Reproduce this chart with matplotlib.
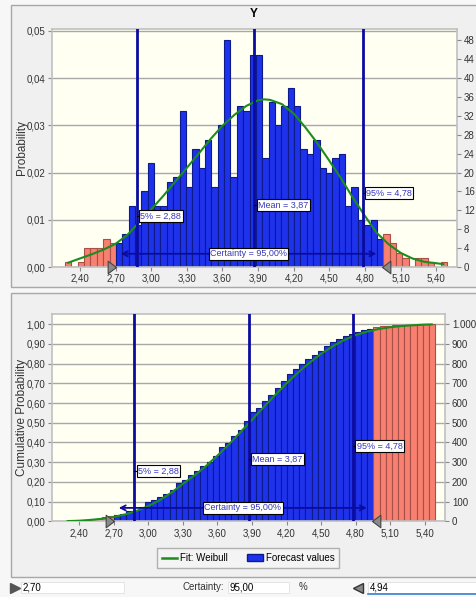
import numpy as np
import matplotlib.pyplot as plt
from matplotlib.patches import Rectangle, Patch
from matplotlib.lines import Line2D
from matplotlib.ticker import FuncFormatter

plt.rcParams['font.family'] = ['Liberation Sans', 'DejaVu Sans']

# forecast: 1000 trials binned into 60 equal bins
trials = 1000
bin_lo = 2.274
bin_w = 0.0536
counts = [1, 0, 1, 4, 4, 4, 6, 5,
          5, 7, 13, 9, 16, 22, 13, 13, 18, 19,
          33, 17, 25, 21, 27, 17, 30, 48, 19, 34, 33, 45, 45, 23, 35, 30,
          34, 38, 34, 25, 24, 27, 21, 20, 23, 24, 13, 17, 10, 9, 10, 6,
          7, 5, 3, 2, 0, 2, 2, 1, 0, 1]

# Weibull fit
fit_x = [2.30, 2.40, 2.50, 2.60, 2.70, 2.80, 2.90, 3.00, 3.10, 3.20, 3.30,
         3.40, 3.50, 3.60, 3.70, 3.80, 3.90, 3.95, 4.00, 4.10, 4.20, 4.30,
         4.40, 4.50, 4.60, 4.70, 4.80, 4.90, 5.00, 5.10, 5.20, 5.30, 5.40, 5.46]
fit_pdf = [0.0009, 0.0018, 0.0027, 0.0037, 0.0049, 0.0068, 0.0095, 0.0122,
           0.0150, 0.0180, 0.0210, 0.0240, 0.0271, 0.0299, 0.0322, 0.0341,
           0.0353, 0.0355, 0.0354, 0.0345, 0.0325, 0.0295, 0.0262, 0.0225,
           0.0187, 0.0146, 0.0108, 0.0072, 0.0048, 0.0030, 0.0018, 0.0011,
           0.0008, 0.0006]
fit_cdf = [0.001, 0.003, 0.007, 0.013, 0.022, 0.035, 0.053, 0.077, 0.107,
           0.145, 0.190, 0.232, 0.280, 0.333, 0.390, 0.452, 0.515, 0.547,
           0.578, 0.640, 0.700, 0.755, 0.805, 0.850, 0.888, 0.920, 0.945,
           0.963, 0.976, 0.985, 0.991, 0.995, 0.998, 0.999]

pct5 = 2.88
mean_val = 3.87
pct95 = 4.78
cert_lo = 2.70
cert_hi = 4.94
certainty = 95.00

W, H = 476, 597
def box(l, t, r, b):
    return [l / W, 1 - b / H, (r - l) / W, (b - t) / H]

def fx(px):
    return px / W

def fy(py):
    return 1 - py / H

comma2 = FuncFormatter(lambda v, p: f'{v:.2f}'.replace('.', ','))
thousand = FuncFormatter(lambda v, p: f'{v:,.0f}'.replace(',', '.'))

BLUE = '#1e32ec'
BLUE_EDGE = '#0d1a8a'
SALMON = '#f88070'
SALMON_EDGE = '#a85048'
LINE = '#0b0b9e'
GREEN = '#1c8c1c'
TXT = '#333333'

fig = plt.figure(figsize=(W / 100, H / 100), dpi=100, facecolor='#f7f7f7')

# panel frames
fig.patches.append(Rectangle((fx(11), fy(287)), 1, (287 - 5) / H, transform=fig.transFigure,
                             fc='#f0f0f0', ec='#a8a8a8', lw=1, zorder=-10))
fig.patches.append(Rectangle((fx(11), fy(577)), 1, (577 - 293) / H, transform=fig.transFigure,
                             fc='#f0f0f0', ec='#a8a8a8', lw=1, zorder=-10))
fig.text(fx(254), fy(14), 'Y', ha='center', va='center', fontsize=8.5, fontweight='bold')

edges = bin_lo + bin_w * np.arange(len(counts))
centers = edges + bin_w / 2
inside = (centers >= cert_lo) & (centers <= cert_hi)
face = [BLUE if k else SALMON for k in inside]
edgec = [BLUE_EDGE if k else SALMON_EDGE for k in inside]
prob = np.array(counts) / trials
cum = np.cumsum(counts) / trials


def style(ax):
    ax.set_facecolor('#fffff2')
    for s in ax.spines.values():
        s.set_color('#c0c0c0')
        s.set_linewidth(1.2)
    ax.tick_params(colors='#888888', labelcolor=TXT, labelsize=7, length=3, width=0.8, pad=2)
    ax.set_axisbelow(True)
    ax.grid(axis='y', color='#a8a8a8', lw=1)
    ax.set_xlim(2.165, 5.575)
    ax.set_xticks(np.arange(2.4, 5.41, 0.3))
    ax.xaxis.set_major_formatter(comma2)


def marks(ax, y_lab, y_cert, dx):
    for v, lab, y in [(pct5, f'5% = {pct5:.2f}'.replace('.', ','), y_lab[0]),
                      (mean_val, f'Mean = {mean_val:.2f}'.replace('.', ','), y_lab[1]),
                      (pct95, f'95% = {pct95:.2f}'.replace('.', ','), y_lab[2])]:
        ax.axvline(v, color=LINE, lw=2, zorder=4)
        ax.plot([v, v + dx], [y, y], color='black', lw=0.8, zorder=5)
        ax.text(v + dx, y, lab, fontsize=6.5, color='#3838b8', va='center', ha='left', zorder=6,
                bbox=dict(boxstyle='square,pad=0.15', fc='white', ec='black', lw=0.8))
    ax.annotate('', xy=(cert_lo + 0.02, y_cert), xytext=(cert_hi - 0.02, y_cert),
                arrowprops=dict(arrowstyle='<->', color=LINE, lw=1.3, mutation_scale=9), zorder=5)
    ax.text((cert_lo + cert_hi) / 2 - 0.0, y_cert, f'Certainty = {certainty:.2f}%'.replace('.', ','),
            fontsize=6.5, color='#3838b8', va='center', ha='center', zorder=6,
            bbox=dict(boxstyle='square,pad=0.15', fc='white', ec='black', lw=0.8))
    right_tri = [(0, 0), (-1, 0.75), (-1, -0.75), (0, 0)]
    left_tri = [(0, 0), (1, 0.75), (1, -0.75), (0, 0)]
    ax.plot([cert_lo], [0], marker=right_tri, ms=12, color='#8a8a8a', mec='#444444', mew=0.8,
            clip_on=False, zorder=7, ls='none')
    ax.plot([cert_hi], [0], marker=left_tri, ms=12, color='#8a8a8a', mec='#444444', mew=0.8,
            clip_on=False, zorder=7, ls='none')


# top: probability histogram
ax1 = fig.add_axes(box(52, 29, 457, 267))
style(ax1)
ax1.bar(edges, prob, width=bin_w, align='edge', color=face, edgecolor=edgec, lw=0.8, zorder=2)
ax1.plot(fit_x, fit_pdf, color=GREEN, lw=1.5, zorder=3)
ax1.set_ylim(0, 0.0504)
ax1.set_yticks(np.arange(0, 0.051, 0.01))
ax1.yaxis.set_major_formatter(comma2)
ax1.set_ylabel('Probability', fontsize=8.5, color=TXT, labelpad=-1)
marks(ax1, [0.0108, 0.0131, 0.0157], 0.0028, 0.03)
ax1r = ax1.twinx()
ax1r.set_ylim(0, 50.4)
ax1r.set_yticks(range(0, 49, 4))
ax1r.tick_params(colors='#888888', labelcolor=TXT, labelsize=7, length=3, width=0.8, pad=2)
for s in ax1r.spines.values():
    s.set_visible(False)

# bottom: cumulative
ax2 = fig.add_axes(box(52, 314, 445, 521.3))
style(ax2)
ax2.bar(edges, cum, width=bin_w, align='edge', color=face, edgecolor=edgec, lw=0.8, zorder=2)
ax2.plot(fit_x, fit_cdf, color=GREEN, lw=1.5, zorder=3)
ax2.set_ylim(0, 1.052)
ax2.set_yticks(np.arange(0, 1.01, 0.1))
ax2.yaxis.set_major_formatter(comma2)
ax2.set_ylabel('Cumulative Probability', fontsize=8.5, color=TXT, labelpad=-1)
marks(ax2, [0.255, 0.316, 0.382], 0.068, 0.03)
ax2r = ax2.twinx()
ax2r.set_ylim(0, 1052)
ax2r.set_yticks(range(0, 1001, 100))
ax2r.yaxis.set_major_formatter(thousand)
ax2r.tick_params(colors='#888888', labelcolor=TXT, labelsize=7, length=3, width=0.8, pad=2)
for s in ax2r.spines.values():
    s.set_visible(False)

handles = [Line2D([], [], color=GREEN, lw=1.8), Patch(fc=BLUE, ec=BLUE_EDGE)]
fig.legend(handles, ['Fit: Weibull', 'Forecast values'], loc='center', ncol=2,
           bbox_to_anchor=(fx(248), fy(558)), fontsize=7, frameon=True, fancybox=False,
           edgecolor='#b0b0b0', facecolor='#f4f4f4', framealpha=1, handlelength=1.6,
           handletextpad=0.3, columnspacing=2.0, borderpad=0.5)

# input row
fig.patches.append(Rectangle((fx(21), fy(593)), (124 - 21) / W, 11 / H, transform=fig.transFigure,
                             fc='white', ec='#e0e0e0', lw=0.6))
fig.text(fx(23), fy(587.5), f'{cert_lo:.2f}'.replace('.', ','), fontsize=7, va='center')
fig.text(fx(224), fy(587.5), 'Certainty:', fontsize=7, va='center', ha='right', color=TXT)
fig.patches.append(Rectangle((fx(228), fy(593)), (289 - 228) / W, 11 / H, transform=fig.transFigure,
                             fc='white', ec='#e0e0e0', lw=0.6))
fig.text(fx(230), fy(587.5), f'{certainty:.2f}'.replace('.', ','), fontsize=7, va='center')
fig.text(fx(299), fy(587.5), '%', fontsize=7, va='center', color=TXT)
fig.patches.append(Rectangle((fx(368), fy(593)), (476 - 368) / W, 11 / H, transform=fig.transFigure,
                             fc='white', ec='#e0e0e0', lw=0.6))
fig.lines.append(Line2D([fx(368), 1], [fy(593.5), fy(593.5)], transform=fig.transFigure,
                        color='#3a7fd0', lw=1.2))
fig.text(fx(370), fy(587.5), f'{cert_hi:.2f}'.replace('.', ','), fontsize=7, va='center')
fig.lines.append(Line2D([fx(15)], [fy(587.5)], transform=fig.transFigure, marker='>', ms=7,
                        color='#555555', ls='none'))
fig.lines.append(Line2D([fx(358)], [fy(587.5)], transform=fig.transFigure, marker='<', ms=7,
                        color='#888888', mec='#333333', ls='none'))

fig.savefig('out.png', dpi=100, facecolor=fig.get_facecolor())
